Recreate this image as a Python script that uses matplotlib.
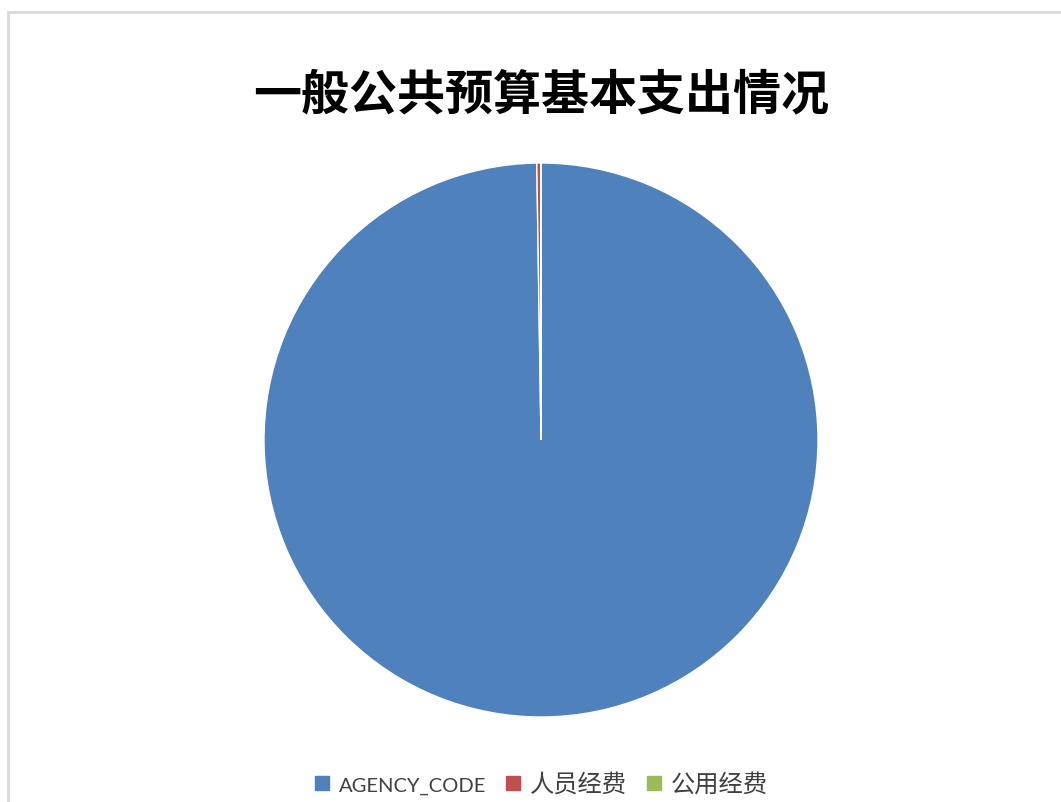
import matplotlib.pyplot as plt
from matplotlib.patches import Rectangle
from matplotlib.lines import Line2D

plt.rcParams['font.family'] = ['Noto Sans CJK SC', 'DejaVu Sans']

labels = ["AGENCY_CODE", "人员经费", "公用经费"]
values = [1000.0, 2.4, 0.02]
colors = ["#4f81bd", "#c0504d", "#9bbb59"]

fig = plt.figure(figsize=(10.61, 8.02), dpi=100)

# chart frame (runs off the right and bottom edge)
fig.patches.append(Rectangle((8 / 1061, -0.1), 1.2, 1 - 12 / 802 + 0.1,
                             transform=fig.transFigure, fill=False,
                             edgecolor="#d9d9d9", linewidth=2))

fig.text(541 / 1061, 1 - 95 / 802, "一般公共预算基本支出情况",
         ha="center", va="center", fontsize=34.6, fontweight="bold")

# pie: center (541, 440), radius ~277 px
r = 277
ax = fig.add_axes([(541 - r) / 1061, 1 - (440 + r) / 802, 2 * r / 1061, 2 * r / 802])
ax.pie(values, colors=colors, startangle=90, counterclock=False,
       wedgeprops=dict(edgecolor="white", linewidth=1.0))
ax.set_xlim(-1, 1)
ax.set_ylim(-1, 1)
ax.set_aspect("equal")

handles = [Line2D([], [], marker="s", linestyle="none", markersize=9.5,
                  markerfacecolor=c, markeredgecolor=c) for c in colors]
leg = fig.legend(handles, labels, loc="center", bbox_to_anchor=(541 / 1061, 1 - 784 / 802),
                 ncol=3, frameon=False, handlelength=0.6, handletextpad=0.4,
                 columnspacing=0.8, labelcolor="#404040",
                 prop=dict(family=['Lato', 'Noto Sans CJK SC'], size=17.5))
# latin label is smaller than the CJK ones in the original
leg.get_texts()[0].set_fontsize(14.5)

fig.savefig("out.png", dpi=100)
